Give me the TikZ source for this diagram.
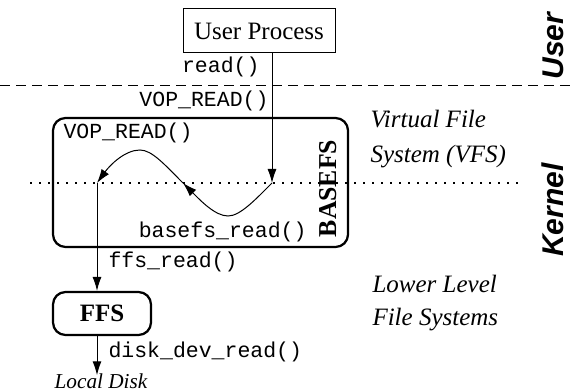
\documentclass[tikz,border=0pt]{standalone}
\usepackage{fontspec}
\setmainfont{Liberation Serif}
\setmonofont{Liberation Mono}
\newfontfamily\layerfont{Liberation Sans}
\usetikzlibrary{
    arrows.meta,
    calc
}
\tikzset{
  every path/.style={
    black,
    line width=0.4pt
  },
  fsbox/.style={
    draw,
    rounded corners=5pt,
    line width=0.9pt,
    inner sep=0pt
  },
  call/.style={
    font=\fontsize{8.6}{10}\ttfamily,
    inner sep=0pt
  },
  layer/.style={
    font=\fontsize{10}{12}\itshape,
    inner sep=0pt,
    anchor=base west
  },
  ring/.style={
    font=\layerfont\fontsize{12}{14}\bfseries\itshape,
    rotate=90,
    inner sep=0pt
  }
}

\begin{document}
\begin{tikzpicture}[x=0.4pt,y=-0.4pt,>={Latex[length=5.6pt,width=3.6pt]}]
    \useasboundingbox (0,0) rectangle (572,392);

    % 境界線
    \draw[dash pattern=on 4pt off 2.4pt] (0,86) -- (572,86);
    \draw[line width=0.6pt,dash pattern=on 0.6pt off 3pt] (30,183) -- (525,183);

    % 層
    \node[ring] (user) at (553,46) {User};
    \node[ring] (kernel) at (553,210) {Kernel};

    % プロセスとファイルシステム
    \node[draw,inner sep=0pt,minimum width=60.8pt,minimum height=17.6pt,
          font=\fontsize{10}{12}\selectfont] (proc) at (259,31) {User Process};
    \node[fsbox,minimum width=118pt,minimum height=51.6pt] (basefs) at (200.5,182.5) {};
    \node[rotate=90,inner sep=0pt,font=\fontsize{10.3}{12}\bfseries] (bname) at (328,188.5) {BASEFS};
    \node[fsbox,minimum width=39.2pt,minimum height=17.2pt,
          font=\fontsize{10}{12}\bfseries] (ffs) at (102,313.5) {FFS};
    \node[inner sep=0pt,anchor=base,font=\fontsize{8.5}{10}\itshape] (disk) at (101,388) {Local Disk};

    % 経路
    \coordinate (in) at (272,183);
    \coordinate (mid) at (183,183);
    \coordinate (out) at (97,183);
    \draw[->] (proc.south -| in) -- (in);
    \draw[->] (in) .. controls (255,200) and (240,216) .. (228,216)
        .. controls (215,216) and (200,200) .. (mid);
    \draw[->] (mid) .. controls (165,165) and (152,150) .. (140,150)
        .. controls (125,150) and (110,165) .. (out);
    \draw[->] (out) -- (ffs.north -| out);
    \draw[->] (ffs.south -| out) -- ([yshift=-1pt]disk.north -| out);

    % 関数名
    \node[call,anchor=base east] (read) at (260,73) {read()};
    \node[call,anchor=base east] (vop) at (269,107) {VOP\_READ()};
    \node[call,anchor=base west] (vopin) at (63,139) {VOP\_READ()};
    \node[call,anchor=base east] (bread) at (307,237) {basefs\_read()};
    \node[call,anchor=base west] (fread) at (108,268) {ffs\_read()};
    \node[call,anchor=base west] (dread) at (108,357) {disk\_dev\_read()};

    % ラベル
    \node[layer] (vfs1) at (370,128) {Virtual File};
    \node[layer] (vfs2) at (370,163) {System (VFS)};
    \node[layer] (low1) at (372,292) {Lower Level};
    \node[layer] (low2) at (372,325) {File Systems};
\end{tikzpicture}
\end{document}
